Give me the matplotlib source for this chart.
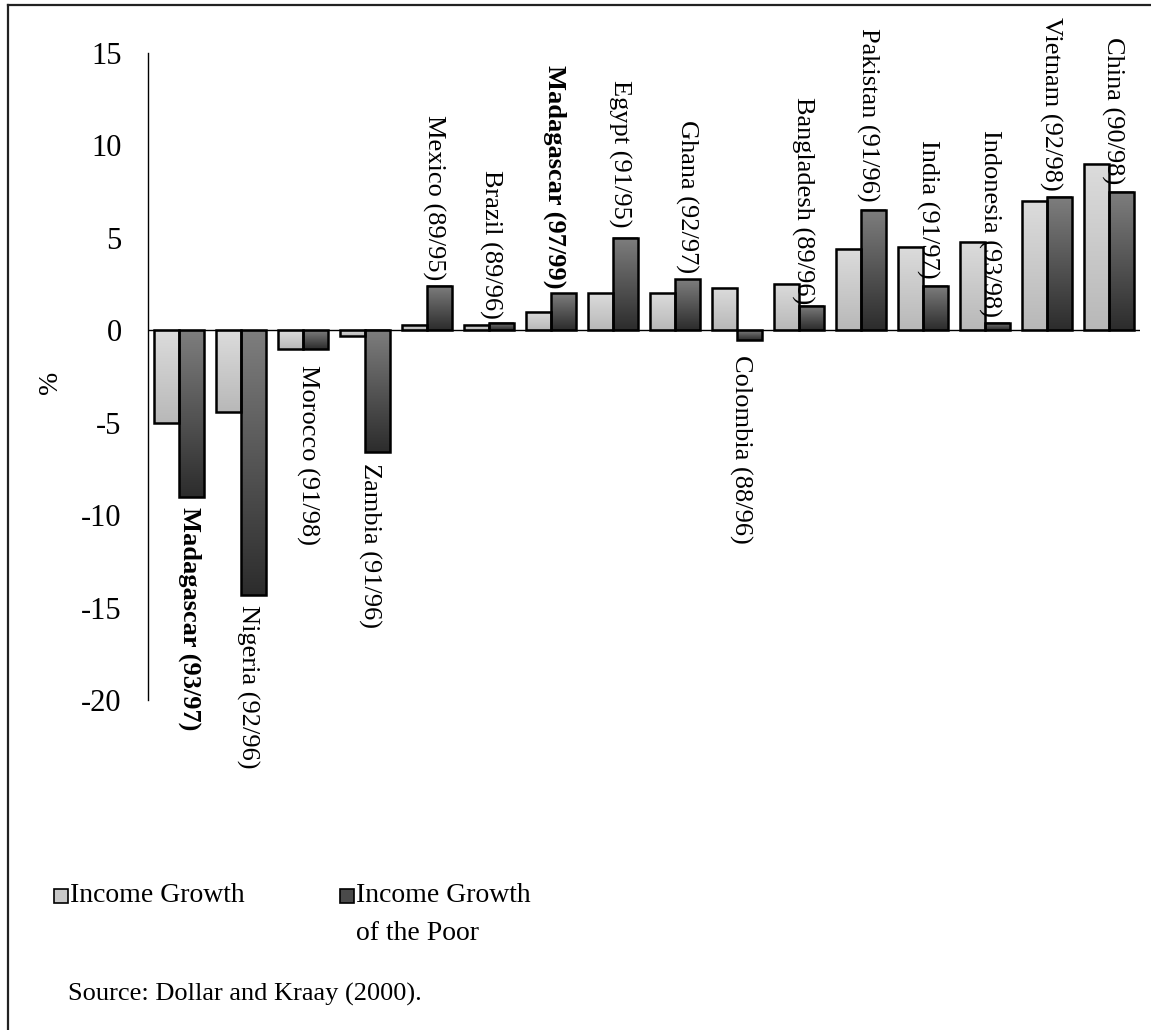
import numpy as np
import matplotlib.pyplot as plt
from matplotlib.colors import LinearSegmentedColormap
from matplotlib.patches import Rectangle
from matplotlib.lines import Line2D

plt.rcParams['font.family'] = ['Liberation Serif', 'DejaVu Serif']
plt.rcParams['axes.unicode_minus'] = False

# Growth rates (%) by country and period
countries = ['Madagascar (93/97)', 'Nigeria (92/96)', 'Morocco (91/98)', 'Zambia (91/96)',
             'Mexico (89/95)', 'Brazil (89/96)', 'Madagascar (97/99)', 'Egypt (91/95)',
             'Ghana (92/97)', 'Colombia (88/96)', 'Bangladesh (89/96)', 'Pakistan (91/96)',
             'India (91/97)', 'Indonesia (93/98)', 'Vietnam (92/98)', 'China (90/98)']
income_growth = [-5.0, -4.4, -1.0, -0.3, 0.3, 0.3, 1.0, 2.0, 2.0, 2.3, 2.5, 4.4, 4.5, 4.8, 7.0, 9.0]
poor_growth = [-9.0, -14.3, -1.0, -6.6, 2.4, 0.4, 2.0, 5.0, 2.75, -0.5, 1.3, 6.5, 2.4, 0.4, 7.2, 7.5]
bold_labels = ['Madagascar (93/97)', 'Madagascar (97/99)']

# where each category label starts (top edge, in % units) and its sideways shift
label_top = [-9.55, -14.85, -1.87, -7.17, 11.65, 8.68, 14.36, 13.55,
             11.38, -1.33, 12.62, 16.36, 10.3, 10.84, 16.95, 15.87]
label_dx = [0.18, 0.11, 0.08, 0.08, 0.10, 0.02, 0.06, 0.11,
            0.19, 0.05, 0.06, 0.10, 0.08, 0.08, 0.05, 0.05]

W, H = 1151, 1030
fig = plt.figure(figsize=(W / 100, H / 100), dpi=100)
ax = fig.add_axes([148 / W, 1 - 700 / H, 992 / W, 647 / H])

x = np.arange(len(countries))
w = 0.4
bars_inc = ax.bar(x - w / 2, income_growth, w, facecolor='none', edgecolor='black',
                  linewidth=1.8, zorder=3)
bars_poor = ax.bar(x + w / 2, poor_growth, w, facecolor='none', edgecolor='black',
                   linewidth=1.8, zorder=3)


def fill_gradient(bars, top, bottom):
    grad = np.linspace(0, 1, 256).reshape(-1, 1)
    cmap = LinearSegmentedColormap.from_list('bar_grad', [top, bottom])
    for b in bars:
        x0, y0 = b.get_x(), b.get_y()
        bw, bh = b.get_width(), b.get_height()
        lo, hi = min(y0, y0 + bh), max(y0, y0 + bh)
        ax.imshow(grad, cmap=cmap, extent=[x0, x0 + bw, lo, hi], origin='upper',
                  aspect='auto', zorder=2, interpolation='bilinear')


fill_gradient(bars_inc, '#dcdcdc', '#b8b8b8')
fill_gradient(bars_poor, '#7e7e7e', '#2c2c2c')

ax.axhline(0, color='black', linewidth=1.0, zorder=4)
ax.set_xlim(-0.5, 15.5)
ax.set_ylim(-20, 15)
for side in ['top', 'right', 'bottom']:
    ax.spines[side].set_visible(False)
ax.spines['left'].set_linewidth(1.0)
ax.set_xticks([])
ax.set_yticks(range(-20, 16, 5))
ax.tick_params(axis='y', length=0, pad=19, labelsize=22)

for i, name in enumerate(countries):
    ax.text(i + label_dx[i], label_top[i], name, rotation=-90, ha='center', va='top',
            fontsize=19, fontweight='bold' if name in bold_labels else 'normal',
            clip_on=False, zorder=5)

fig.text(50 / W, 1 - 382 / H, '%', rotation=90, ha='center', va='center', fontsize=20)

# legend drawn by hand below the plot
fig.add_artist(Rectangle((54 / W, 1 - 903 / H), 14 / W, 14 / H, transform=fig.transFigure,
                         facecolor='#c8c8c8', edgecolor='black', linewidth=1.2))
fig.text(70 / W, 1 - 896 / H, 'Income Growth', va='center', fontsize=20)
fig.add_artist(Rectangle((340 / W, 1 - 903 / H), 14 / W, 14 / H, transform=fig.transFigure,
                         facecolor='#4a4a4a', edgecolor='black', linewidth=1.2))
fig.text(356 / W, 1 - 896 / H, 'Income Growth', va='center', fontsize=20)
fig.text(356 / W, 1 - 934 / H, 'of the Poor', va='center', fontsize=20)

fig.text(68 / W, 1 - 994 / H, 'Source: Dollar and Kraay (2000).', va='center', fontsize=19)

# page frame (left and top edges)
fig.add_artist(Line2D([8 / W, 8 / W], [0, 1 - 5 / H], transform=fig.transFigure,
                      color='#222222', linewidth=1.6))
fig.add_artist(Line2D([8 / W, 1], [1 - 5 / H, 1 - 5 / H], transform=fig.transFigure,
                      color='#222222', linewidth=1.6))

fig.savefig('out.png', dpi=100)
